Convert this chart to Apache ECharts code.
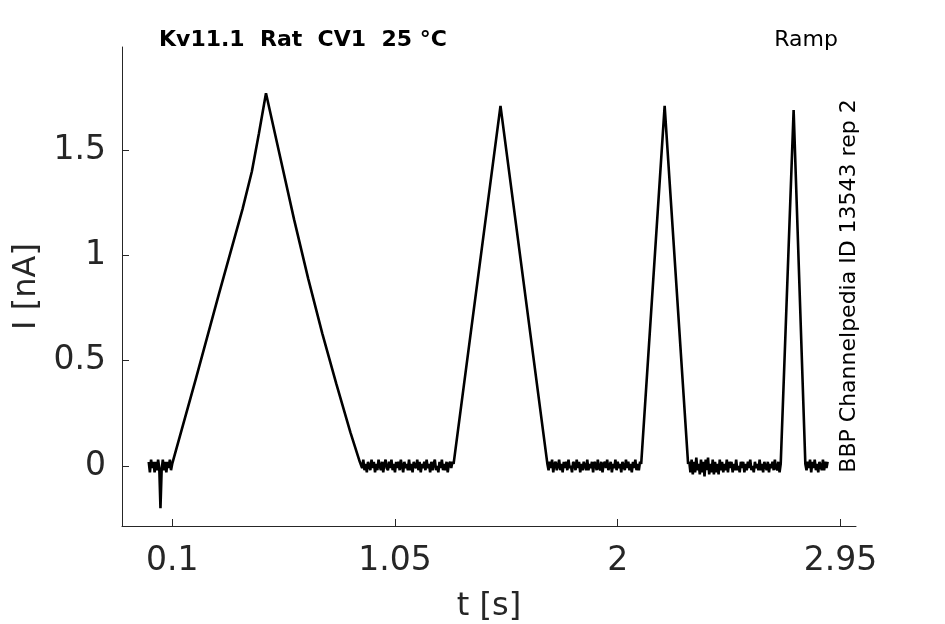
<!DOCTYPE html>
<html>
<head>
<meta charset="utf-8">
<script src="https://cdn.jsdelivr.net/npm/echarts@6/dist/echarts.min.js"></script>
<style>
html,body{margin:0;padding:0;background:#fff;}
#chart{width:945px;height:624px;}
</style>
</head>
<body>
<div id="chart"></div>
<script>
// Tick labels
const xTicks = [0.1, 1.05, 2, 2.95];
const yTicks = [0, 0.5, 1, 1.5];

// Baseline (noisy) segments: start time (s), sample step (s), current values (nA)
const baseStep = 0.005;
const base0Start = 0.000;
const base0 = [0.02,-0.03,0.03,-0.01,0.02,-0.03,0.02,-0.02,0.03,-0.01,-0.20,-0.02,0.03,-0.02,0.02,-0.03,0.02,-0.01,0.03,-0.02];
const base1Start = 0.905;
const base1 = [0.02,-0.01,0.03,-0.02,0.01,-0.03,0.02,0.00,-0.02,0.03,
  -0.01,0.02,-0.03,0.01,-0.02,0.03,0.00,-0.02,0.02,-0.03,
  0.01,0.03,-0.01,-0.02,0.02,-0.01,0.03,-0.02,0.01,-0.03,
  0.02,-0.01,0.02,-0.02,0.03,0.00,-0.03,0.02,-0.01,0.01,
  -0.02,0.03,-0.02,0.01,-0.03,0.02,0.00,-0.01,0.03,-0.02,
  0.02,-0.03,0.01,-0.01,0.02,-0.02,0.03,-0.01,0.01,-0.03,
  0.02,-0.02,0.01,0.03,-0.02,0.00,-0.03,0.02,-0.01,0.03,
  -0.02,0.01,-0.02,0.02,-0.03,0.01,0.02,-0.01,0.02];
const base2Start = 1.705;
const base2 = [-0.02,0.02,-0.01,0.03,-0.03,0.01,0.02,-0.02,0.00,0.03,
  -0.02,0.01,-0.03,0.02,-0.01,0.02,-0.02,0.03,-0.01,0.00,
  -0.03,0.02,0.01,-0.02,0.03,-0.01,0.02,-0.03,0.01,-0.02,
  0.02,0.00,-0.02,0.03,-0.02,0.01,-0.01,0.02,-0.03,0.02,
  0.01,-0.02,0.03,-0.01,-0.02,0.02,-0.03,0.01,0.02,-0.01,
  0.03,-0.02,0.00,0.02,-0.03,0.01,-0.01,0.03,-0.02,0.02,
  -0.01,0.01,-0.03,0.02,0.00,-0.02,0.03,-0.01,0.02,-0.02,
  0.01,-0.03,0.02,-0.01,0.03,-0.02,0.01,-0.02,0.02];
const base3Start = 2.305;
const base3 = [0.02,-0.03,0.03,-0.04,0.02,-0.03,0.04,-0.02,0.01,-0.04,
  0.03,-0.03,0.02,-0.05,0.03,-0.02,0.04,-0.04,0.01,-0.03,
  0.03,-0.04,0.02,-0.03,0.01,-0.04,0.03,-0.02,0.02,-0.03,
  0.01,-0.02,0.03,-0.03,0.02,-0.01,0.02,-0.03,0.01,-0.02,
  0.03,-0.02,0.00,-0.03,0.02,-0.01,0.02,-0.03,0.01,-0.02,
  0.02,-0.01,0.03,-0.02,0.00,-0.03,0.02,-0.01,0.01,-0.02,
  0.03,-0.02,0.01,-0.03,0.02,0.00,-0.02,0.02,-0.03,0.01,
  -0.01,0.02,-0.02,0.03,-0.01,-0.02,0.02,-0.03,0.01];
const base4Start = 2.805;
const base4 = [-0.02,0.02,-0.01,0.03,-0.03,0.02,-0.01,0.03,-0.02,0.01,-0.03,0.02,0.00,-0.02,0.03,-0.02,0.02,-0.01,0.02];

// Ramp responses [t (s), I (nA)]
const ramp1 = [[0.100,0.010],[0.200,0.410],[0.300,0.820],[0.400,1.220],[0.440,1.400],[0.470,1.580],[0.500,1.770],[0.560,1.470],[0.620,1.170],[0.680,0.890],[0.740,0.630],[0.800,0.390],[0.860,0.160],[0.900,0.020]];
const ramp2 = [[1.300,0.010],[1.500,1.710],[1.700,0.010]];
const ramp3 = [[2.100,0.010],[2.200,1.710],[2.300,0.010]];
const ramp4 = [[2.700,0.010],[2.750,1.690],[2.800,0.010]];

function sampled(t0, vals) { return vals.map((v, i) => [t0 + i * baseStep, v]); }

const trace = [].concat(
  sampled(base0Start, base0), ramp1,
  sampled(base1Start, base1), ramp2,
  sampled(base2Start, base2), ramp3,
  sampled(base3Start, base3), ramp4,
  sampled(base4Start, base4)
);

const FONT = 'DejaVu Sans';
const AX = '#262626';

const chart = echarts.init(document.getElementById('chart'), null, {renderer: 'canvas'});
chart.setOption({
  animation: false,
  backgroundColor: '#fff',
  grid: {left: 122, right: 89, top: 47, bottom: 98, containLabel: false, outerBoundsMode: 'none'},
  xAxis: {
    type: 'value', min: -0.114, max: 3.016,
    name: 't [s]', nameLocation: 'middle', nameGap: 65,
    nameTextStyle: {fontFamily: FONT, fontSize: 32, color: AX},
    axisLine: {show: true, onZero: false, lineStyle: {color: AX, width: 1}},
    axisTick: {show: true, inside: true, length: 7, lineStyle: {color: AX}, customValues: xTicks},
    axisLabel: {show: true, customValues: xTicks, fontFamily: FONT, fontSize: 33, color: AX, margin: 19,
      formatter: v => String(v)},
    splitLine: {show: false}
  },
  yAxis: {
    type: 'value', min: -0.285, max: 1.99,
    name: 'I [nA]', nameLocation: 'middle', nameGap: 78,
    nameTextStyle: {fontFamily: FONT, fontSize: 32, color: AX},
    axisLine: {show: true, onZero: false, lineStyle: {color: AX, width: 1}},
    axisTick: {show: true, inside: true, length: 7, lineStyle: {color: AX}, customValues: yTicks},
    axisLabel: {show: true, customValues: yTicks, fontFamily: FONT, fontSize: 33, color: AX, margin: 16,
      formatter: v => String(v)},
    splitLine: {show: false}
  },
  graphic: [
    {type: 'text', x: 159, y: 40, style: {text: 'Kv11.1  Rat  CV1  25 °C', font: 'bold 22px "DejaVu Sans"', fill: '#000', textAlign: 'left', textVerticalAlign: 'middle'}},
    {type: 'text', x: 838, y: 40, style: {text: 'Ramp', font: '22px "DejaVu Sans"', fill: '#000', textAlign: 'right', textVerticalAlign: 'middle'}},
    {type: 'text', x: 849, y: 286, rotation: Math.PI / 2, style: {text: 'BBP Channelpedia ID 13543 rep 2', font: '22px "DejaVu Sans"', fill: '#000', textAlign: 'center', textVerticalAlign: 'middle'}}
  ],
  series: [{
    type: 'line', data: trace, showSymbol: false, symbol: 'none', sampling: null,
    lineStyle: {color: '#000', width: 2.6}, z: 3
  }]
});
</script>
</body>
</html>
